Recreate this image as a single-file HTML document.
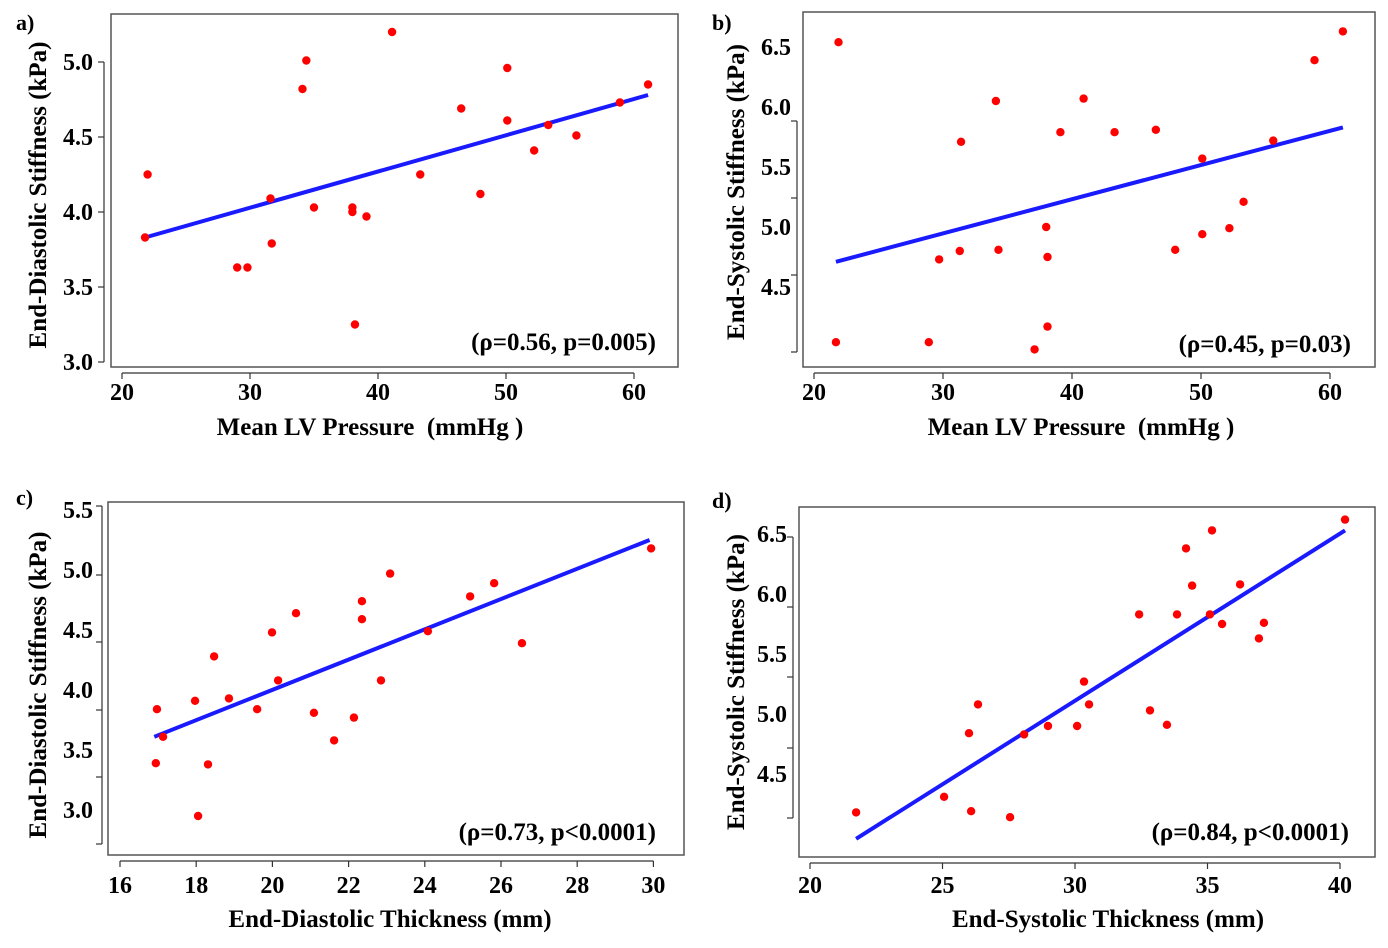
<!DOCTYPE html>
<html><head><meta charset="utf-8">
<style>
html,body{margin:0;padding:0;background:#fff;}
svg{display:block;font-family:"Liberation Serif",serif;font-weight:bold;}
</style></head>
<body>
<svg id="chart" width="1388" height="948" viewBox="0 0 1388 948" xmlns="http://www.w3.org/2000/svg"></svg>
<script>
// Panel a: Mean LV Pressure vs End-Diastolic Stiffness
const aX=[21.8,22.0,29.0,29.8,31.6,31.7,34.1,34.4,35.0,38.0,38.0,38.2,39.1,41.1,43.3,46.5,48.0,50.1,50.1,52.2,53.3,55.5,58.9,61.1];
const aY=[3.83,4.25,3.63,3.63,4.09,3.79,4.82,5.01,4.03,4.00,4.03,3.25,3.97,5.20,4.25,4.69,4.12,4.61,4.96,4.41,4.58,4.51,4.73,4.85];
const aFit=[[21.8,3.83],[61.1,4.78]];
const aXTicks=[20,30,40,50,60];
const aYTicks=["3.0","3.5","4.0","4.5","5.0"];
// Panel b: Mean LV Pressure vs End-Systolic Stiffness
const bX=[21.9,21.7,28.9,29.7,31.4,31.3,34.1,34.3,37.1,38.0,38.1,38.1,39.1,40.9,43.3,46.5,48.0,50.1,50.1,52.2,53.3,55.6,58.8,61.0];
const bY=[6.54,4.04,4.04,4.73,5.71,4.80,6.05,4.81,3.98,5.00,4.75,4.17,5.79,6.07,5.79,5.81,4.81,5.57,4.94,4.99,5.21,5.72,6.39,6.63];
const bFit=[[21.7,4.71],[61.0,5.83]];
const bXTicks=[20,30,40,50,60];
const bYTicks=["4.5","5.0","5.5","6.0","6.5"];
// Panel c: End-Diastolic Thickness vs End-Diastolic Stiffness
const cX=[16.97,17.13,16.94,17.97,18.31,18.05,18.47,18.86,19.6,19.99,20.15,20.62,21.09,21.62,22.14,22.35,22.35,22.85,23.09,24.08,25.19,25.82,26.55,29.94];
const cY=[3.84,3.61,3.39,3.91,3.38,2.95,4.28,3.93,3.84,4.48,4.08,4.64,3.81,3.58,3.77,4.74,4.59,4.08,4.97,4.49,4.78,4.89,4.39,5.18];
const cFit=[[16.9,3.61],[29.9,5.25]];
const cXTicks=[16,18,20,22,24,26,28,30];
const cYTicks=["3.0","3.5","4.0","4.5","5.0","5.5"];
// Panel d: End-Systolic Thickness vs End-Systolic Stiffness
const dX=[21.74,25.06,26.08,26.0,26.34,27.55,28.08,28.98,30.08,30.34,30.53,32.42,32.83,33.47,33.85,34.19,34.42,35.17,35.09,35.55,36.23,36.94,37.13,40.19];
const dY=[4.18,4.31,4.19,4.84,5.08,4.14,4.83,4.90,4.90,5.27,5.08,5.83,5.03,4.91,5.83,6.38,6.07,6.53,5.83,5.75,6.08,5.63,5.76,6.62];
const dFit=[[21.74,3.96],[40.19,6.53]];
const dXTicks=[20,25,30,35,40];
const dYTicks=["4.5","5.0","5.5","6.0","6.5"];

const NS="http://www.w3.org/2000/svg";
const svg=document.getElementById('chart');
function el(tag,attrs,parent){const e=document.createElementNS(NS,tag);for(const k in attrs)e.setAttribute(k,attrs[k]);(parent||svg).appendChild(e);return e;}
function txt(s,attrs,parent){const e=el('text',attrs,parent);e.textContent=s;return e;}

const panels=[
 {id:'a',X:aX,Y:aY,fit:aFit,xt:aXTicks,yt:aYTicks,box:[111,14,678,367],x0:20,xp0:122,xs:12.8,y0:3,yp0:362,ys:150,
  ytickPx:null,axY:373,axX:104,ylabX:93,xlabY:400,ytitle:'End-Diastolic Stiffness (kPa)',ytX:46,ytY:195,
  xtitle:'Mean LV Pressure\u00a0 (mmHg )',xtX:370,xtY:435,ann:'(ρ=0.56, p=0.005)',annX:656,annY:350,tag:'a)',tagX:16,tagY:30},
 {id:'b',X:bX,Y:bY,fit:bFit,xt:bXTicks,yt:bYTicks,box:[803,12,1375,367],x0:20,xp0:814,xs:12.9,y0:4.5,yp0:287,ys:120,
  ytickPx:[121,198,275,352],axY:373,axX:797,ylabX:791,xlabY:400,ytitle:'End-Systolic Stiffness (kPa)',ytX:744,ytY:192,
  xtitle:'Mean LV Pressure\u00a0 (mmHg )',xtX:1081,xtY:435,ann:'(ρ=0.45, p=0.03)',annX:1351,annY:352,tag:'b)',tagX:712,tagY:30},
 {id:'c',X:cX,Y:cY,fit:cFit,xt:cXTicks,yt:cYTicks,box:[108,502,684,855],x0:16,xp0:120,xs:38.1,y0:3,yp0:810,ys:120,
  ytickPx:[506,575,642,710,777,844],axY:861,axX:102,ylabX:93,xlabY:893,ytitle:'End-Diastolic Stiffness (kPa)',ytX:46,ytY:685,
  xtitle:'End-Diastolic Thickness (mm)',xtX:390,xtY:927,ann:'(ρ=0.73, p<0.0001)',annX:656,annY:840,tag:'c)',tagX:16,tagY:505},
 {id:'d',X:dX,Y:dY,fit:dFit,xt:dXTicks,yt:dYTicks,box:[799,507,1375,857],x0:20,xp0:810,xs:26.5,y0:5,yp0:714,ys:120,
  ytickPx:[537,607,677,748,818],axY:863,axX:793,ylabX:787,xlabY:893,ytitle:'End-Systolic Stiffness (kPa)',ytX:744,ytY:682,
  xtitle:'End-Systolic Thickness (mm)',xtX:1108,xtY:927,ann:'(ρ=0.84, p<0.0001)',annX:1349,annY:840,tag:'d)',tagX:712,tagY:508}
];

panels.forEach(p=>{
  const g=el('g',{});
  
  
  const sx=v=>p.xp0+(v-p.x0)*p.xs;
  const sy=v=>p.yp0-(v-p.y0)*p.ys;
  const [l,t,r,b]=p.box;
  const frame=el('rect',{x:l,y:t,width:r-l,height:b-t,fill:'none',stroke:'#555','stroke-width':1.5},g);
  
  
  const xa=el('g',{},g);
  
  
  const xf=sx(p.xt[0]),xl=sx(p.xt[p.xt.length-1]);
  el('line',{x1:xf,y1:p.axY,x2:xl,y2:p.axY,stroke:'#333','stroke-width':1.2},xa);
  p.xt.forEach(v=>{
    el('line',{x1:sx(v),y1:p.axY,x2:sx(v),y2:p.axY+6,stroke:'#333','stroke-width':1.2},xa);
    const tl=txt(String(v),{x:sx(v),y:p.xlabY,'text-anchor':'middle','font-size':24},xa);
    
    
  });
  const ya=el('g',{},g);
  
  
  const tp=p.ytickPx||p.yt.map(v=>sy(parseFloat(v)));
  const ymin=Math.min(...tp),ymax=Math.max(...tp);
  el('line',{x1:p.axX,y1:ymin,x2:p.axX,y2:ymax,stroke:'#333','stroke-width':1.2},ya);
  tp.forEach(py=>el('line',{x1:p.axX-6,y1:py,x2:p.axX,y2:py,stroke:'#333','stroke-width':1.2},ya));
  p.yt.forEach(s=>{
    const tl=txt(s,{x:p.ylabX,y:sy(parseFloat(s))+8,'text-anchor':'end','font-size':24},ya);
    
    
  });
  const fl=el('line',{x1:sx(p.fit[0][0]),y1:sy(p.fit[0][1]),x2:sx(p.fit[1][0]),y2:sy(p.fit[1][1]),stroke:'#1a1aff','stroke-width':4},g);
  
  
  p.X.forEach((x,i)=>{
    const c=el('circle',{cx:sx(x),cy:sy(p.Y[i]),r:4.2,fill:'#ff0000'},g);
    
    
  });
  const yt=txt(p.ytitle,{x:0,y:0,'text-anchor':'middle','font-size':25,transform:`translate(${p.ytX},${p.ytY}) rotate(-90)`},g);
  
  
  const xt=txt(p.xtitle,{x:p.xtX,y:p.xtY,'text-anchor':'middle','font-size':25},g);
  
  
  const an=txt(p.ann,{x:p.annX,y:p.annY,'text-anchor':'end','font-size':25},g);
  
  
  const tg=txt(p.tag,{x:p.tagX,y:p.tagY,'font-size':22},g);
  
  
});
</script>
</body></html>
